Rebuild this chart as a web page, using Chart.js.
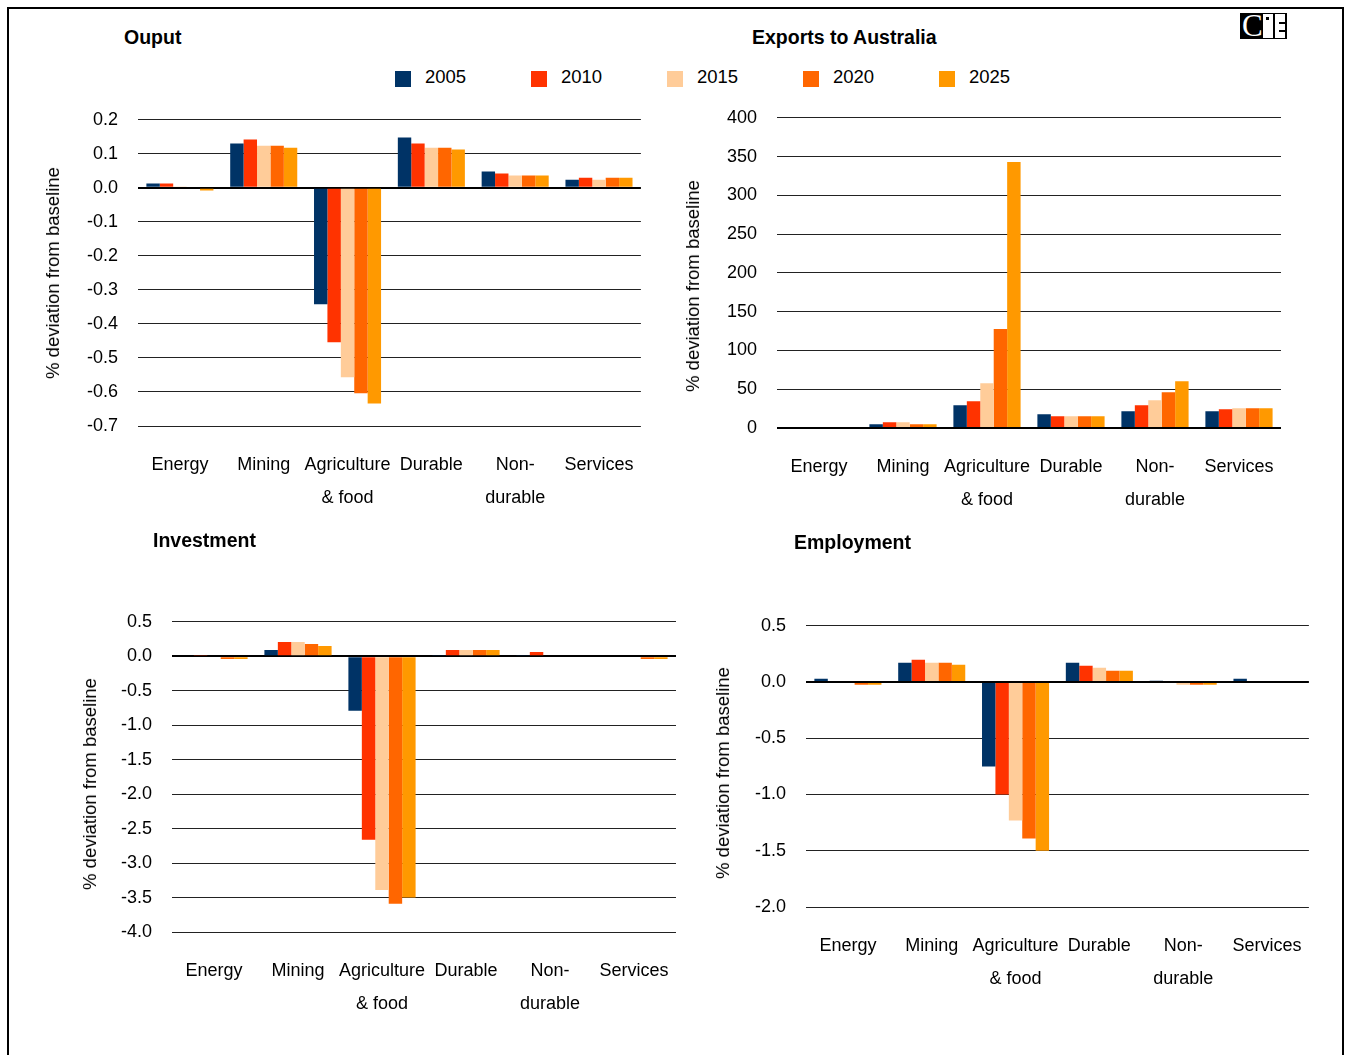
<!DOCTYPE html>
<html>
<head>
<meta charset="utf-8">
<script src="https://cdn.jsdelivr.net/npm/chart.js@4/dist/chart.umd.min.js"></script>
<style>
  html, body { margin: 0; padding: 0; background: #fff; }
  body { width: 1349px; height: 1055px; overflow: hidden; position: relative;
         font-family: 'Liberation Sans', Arial, sans-serif; color: #000; }
  .frame { position: absolute; left: 7px; top: 7px; width: 1337px; height: 1100px; border: 2px solid #000; box-sizing: border-box; }
  canvas { position: absolute; }
  .title { position: absolute; font-weight: bold; font-size: 19.5px; line-height: 30px; white-space: nowrap; }
  .ytitle { position: absolute; font-size: 18.5px; line-height: 24px; white-space: nowrap;
            transform: translate(-50%, -50%) rotate(-90deg); }
  .legend { position: absolute; left: 395px; top: 65px; display: flex; }
  .legend .item { width: 136px; display: flex; align-items: center; height: 24px; font-size: 18.5px; }
  .legend .sw { width: 16px; height: 16px; margin-right: 14px; margin-top: 3px; }
  .logo { position: absolute; left: 1240px; top: 13px; width: 47px; height: 26px; background: #000; overflow: hidden; }
  .logo .c { position: absolute; left: 2px; top: -3px; font-family: 'Liberation Serif', serif; font-size: 31px; line-height: 32px; color: #fff; }
  .logo .i { position: absolute; left: 23px; top: 1px; width: 10px; height: 24px; background: #fff; }
  .logo .dot { position: absolute; left: 26px; top: 4px; width: 3px; height: 3px; background: #000; }
  .logo .e { position: absolute; left: 35px; top: 1px; width: 10px; height: 24px; background: #fff; }
  .logo .n1 { position: absolute; left: 39px; top: 9px; width: 6px; height: 2px; background: #000; }
  .logo .n2 { position: absolute; left: 39px; top: 17px; width: 6px; height: 2px; background: #000; }
</style>
</head>
<body>
<div class="frame"></div>
<div class="logo"><span class="c">C</span><div class="i"></div><div class="dot"></div><div class="e"></div><div class="n1"></div><div class="n2"></div></div>
<div id="legend" class="legend"></div>

<script>
// Sector categories shared by all four panels
const categories = [['Energy'], ['Mining'], ['Agriculture', '& food'], ['Durable'], ['Non-', 'durable'], ['Services']];
const years = ['2005', '2010', '2015', '2020', '2025'];

// Output, % deviation from baseline (one array per year, in category order)
const output2005 = [0.013, 0.130, -0.342, 0.148, 0.048, 0.024];
const output2010 = [0.013, 0.142, -0.454, 0.130, 0.042, 0.030];
const output2015 = [0.004, 0.124, -0.557, 0.118, 0.036, 0.024];
const output2020 = [0.000, 0.124, -0.604, 0.118, 0.036, 0.030];
const output2025 = [-0.008, 0.118, -0.634, 0.113, 0.036, 0.030];

// Exports to Australia, % deviation from baseline
const exports2005 = [0, 4.8, 29.3, 17.7, 21.6, 21.6];
const exports2010 = [0, 7.4, 34.5, 15.1, 29.3, 24.2];
const exports2015 = [0, 7.4, 57.8, 15.1, 35.8, 25.5];
const exports2020 = [0, 4.8, 127.5, 15.1, 46.1, 25.5];
const exports2025 = [0, 4.8, 343, 15.1, 60.3, 25.5];

// Investment, % deviation from baseline
const invest2005 = [0, 0.091, -0.79, 0.02, 0.02, 0];
const invest2010 = [0.02, 0.207, -2.66, 0.09, 0.062, 0];
const invest2015 = [0, 0.207, -3.39, 0.09, 0.015, 0];
const invest2020 = [-0.04, 0.178, -3.59, 0.09, 0.015, -0.04];
const invest2025 = [-0.04, 0.149, -3.50, 0.09, 0.015, -0.04];

// Employment, % deviation from baseline
const employ2005 = [0.029, 0.171, -0.75, 0.171, 0.012, 0.029];
const employ2010 = [0.01, 0.198, -1.00, 0.145, 0, 0.01];
const employ2015 = [0, 0.171, -1.23, 0.127, -0.024, 0.01];
const employ2020 = [-0.024, 0.171, -1.39, 0.10, -0.024, 0.01];
const employ2025 = [-0.024, 0.154, -1.50, 0.10, -0.024, 0.01];

// Value-axis tick labels for each panel
const outputTicks = [0.2, 0.1, 0.0, -0.1, -0.2, -0.3, -0.4, -0.5, -0.6, -0.7];
const exportsTicks = [400, 350, 300, 250, 200, 150, 100, 50, 0];
const investTicks = [0.5, 0.0, -0.5, -1.0, -1.5, -2.0, -2.5, -3.0, -3.5, -4.0];
const employTicks = [0.5, 0.0, -0.5, -1.0, -1.5, -2.0];

// Series colours, one per year
const yearColors = ['#003366', '#FF3300', '#FFCC99', '#FF6600', '#FF9900'];

const FONT = "'Liberation Sans', Arial, sans-serif";

// Shared legend
const legendEl = document.getElementById('legend');
years.forEach((y, i) => {
  const item = document.createElement('div');
  item.className = 'item';
  const sw = document.createElement('div');
  sw.className = 'sw';
  sw.style.background = yearColors[i];
  item.appendChild(sw);
  item.appendChild(document.createTextNode(y));
  legendEl.appendChild(item);
});

function addText(cls, text, left, top) {
  const el = document.createElement('div');
  el.className = cls;
  el.textContent = text;
  el.style.left = left + 'px';
  el.style.top = top + 'px';
  document.body.appendChild(el);
}

function chartConfig(opts, axisW, xAxisH) {
  const tickVals = opts.ticks;
  return {
    type: 'bar',
    data: {
      labels: categories,
      datasets: opts.series.map((d, i) => ({
        label: years[i],
        data: d,
        backgroundColor: yearColors[i],
        borderWidth: 0,
        categoryPercentage: 0.8,
        barPercentage: 1.0
      }))
    },
    options: {
      responsive: false,
      animation: false,
      devicePixelRatio: 1,
      layout: { padding: 0 },
      plugins: { legend: { display: false }, tooltip: { enabled: false }, title: { display: false } },
      scales: {
        x: {
          grid: { display: false, drawTicks: false },
          border: { display: false },
          ticks: {
            color: '#000', autoSkip: false, maxRotation: 0, minRotation: 0,
            padding: 22.5,
            font: { family: FONT, size: 18, lineHeight: 1.83 }
          },
          afterFit: s => { s.height = xAxisH; }
        },
        y: {
          min: Math.min(...tickVals),
          max: Math.max(...tickVals),
          afterBuildTicks: s => { s.ticks = tickVals.slice().sort((a, b) => a - b).map(v => ({ value: v })); },
          grid: {
            drawTicks: false,
            color: ctx => (ctx.tick && ctx.tick.value === 0) ? '#000' : '#222',
            lineWidth: ctx => (ctx.tick && ctx.tick.value === 0) ? 2 : 1
          },
          border: { display: false },
          ticks: {
            color: '#000', padding: 20,
            font: { family: FONT, size: 18 },
            callback: v => opts.fmt(v)
          },
          afterFit: s => { s.width = axisW; }
        }
      }
    }
  };
}

// One grouped bar chart whose plot area lands on the given page box
function panel(opts) {
  const axisW = 80, xAxisH = 100;
  const boxW = opts.right - opts.left, boxH = opts.bottom - opts.top;
  const make = (w, h, left, top) => {
    const c = document.createElement('canvas');
    c.width = w; c.height = h;
    c.style.left = left + 'px'; c.style.top = top + 'px';
    c.style.width = w + 'px'; c.style.height = h + 'px';
    document.body.appendChild(c);
    return { c, chart: new Chart(c, chartConfig(opts, axisW, xAxisH)) };
  };
  // measure the label-driven margins around the plot area, refining the canvas size
  let w = boxW + axisW + 20, h = boxH + xAxisH + 30;
  let p = null;
  for (let pass = 0; pass < 4; pass++) {
    if (p) { p.chart.destroy(); p.c.remove(); }
    p = make(w, h, 0, 0);
    const ca = p.chart.chartArea;
    const nw = Math.round(ca.left + boxW + (w - ca.right));
    const nh = Math.round(ca.top + boxH + (h - ca.bottom));
    if (nw === w && nh === h) break;
    w = nw; h = nh;
  }
  const ca = p.chart.chartArea;
  p.chart.destroy(); p.c.remove();
  make(w, h, Math.round(opts.left - ca.left), Math.round(opts.top - ca.top));

  addText('title', opts.title, opts.titleX, opts.titleY - 15);
  addText('ytitle', '% deviation from baseline', opts.yTitleX, opts.yTitleY);
}

const oneDec = v => (Math.abs(v) < 1e-9 ? 0 : v).toFixed(1);

panel({
  title: 'Ouput', titleX: 124, titleY: 37, yTitleX: 53, yTitleY: 273,
  left: 138, right: 641, top: 120, bottom: 426,
  series: [output2005, output2010, output2015, output2020, output2025],
  ticks: outputTicks, fmt: oneDec
});
panel({
  title: 'Exports to Australia', titleX: 752, titleY: 37, yTitleX: 693, yTitleY: 286,
  left: 777, right: 1281, top: 118, bottom: 428,
  series: [exports2005, exports2010, exports2015, exports2020, exports2025],
  ticks: exportsTicks, fmt: v => String(Math.round(v))
});
panel({
  title: 'Investment', titleX: 153, titleY: 540, yTitleX: 90, yTitleY: 784,
  left: 172, right: 676, top: 622, bottom: 932,
  series: [invest2005, invest2010, invest2015, invest2020, invest2025],
  ticks: investTicks, fmt: oneDec
});
panel({
  title: 'Employment', titleX: 794, titleY: 542, yTitleX: 723, yTitleY: 773,
  left: 806, right: 1309, top: 626, bottom: 907,
  series: [employ2005, employ2010, employ2015, employ2020, employ2025],
  ticks: employTicks, fmt: oneDec
});
</script>
</body>
</html>
